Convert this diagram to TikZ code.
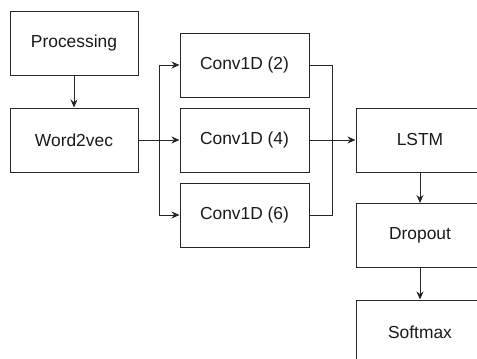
\documentclass[tikz,border=0pt]{standalone}
\usepackage{fontspec}
\setmainfont{Liberation Sans}
\usetikzlibrary{arrows.meta}
\begin{document}
\begin{tikzpicture}[x=1pt,y=-1pt,
  box/.style={draw=black!85, line width=1pt, minimum width=128pt, minimum height=64pt, inner sep=0pt, text=black!90, font=\fontsize{17.4}{20}\selectfont},
  arr/.style={draw=black!85, line width=1pt, -{Stealth[length=8pt,width=7pt]}},
  ln/.style={draw=black!85, line width=1pt}]
\useasboundingbox (0,0) rectangle (477,359);
\clip (0,0) rectangle (477,359);
\node[box] (proc) at (74,43) {Processing};
\node[box] (w2v) at (74,140) {Word2vec};
\node[box, minimum width=129pt] (c2) at (244.5,65) {Conv1D (2)};
\node[box, minimum width=129pt] (c4) at (244.5,140) {Conv1D (4)};
\node[box, minimum width=129pt] (c6) at (244.5,215) {Conv1D (6)};
\node[box] (lstm) at (420,140) {LSTM};
\node[box] (drop) at (420,235.5) {Dropout};
\node[box] (soft) at (420,332) {Softmax};
\coordinate (br) at (159,140);
\coordinate (mg) at (332,140);
\draw[arr] (proc) -- (w2v);
\draw[arr] (w2v) -- (c4);
\draw[arr] (br) |- (c2);
\draw[arr] (br) |- (c6);
\draw[ln] (c2.east) -| (mg);
\draw[ln] (c6.east) -| (mg);
\draw[arr] (c4) -- (lstm);
\draw[arr] (lstm) -- (drop);
\draw[arr] (drop) -- (soft);
\end{tikzpicture}
\end{document}
